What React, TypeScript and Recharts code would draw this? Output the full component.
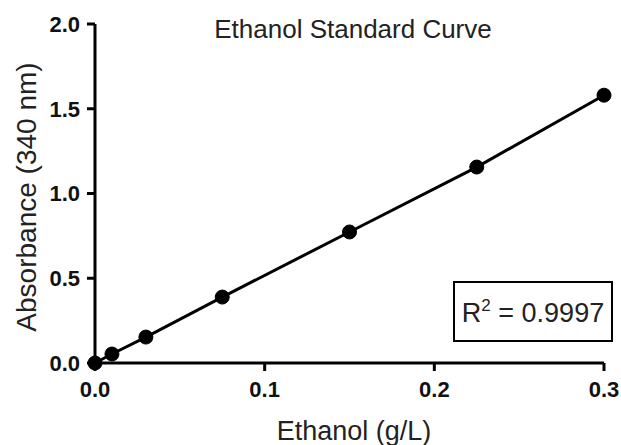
import { ComposedChart, XAxis, YAxis, Line, Label } from "recharts";

// ethanol standards (g/L) and measured absorbance at 340 nm
const ethanol = [0, 0.01, 0.03, 0.075, 0.15, 0.225, 0.3];
const absorbance = [0, 0.053, 0.153, 0.389, 0.773, 1.156, 1.58];
const xTicks = [0, 0.1, 0.2, 0.3];
const yTicks = [0, 0.5, 1.0, 1.5, 2.0];
const rSquared = "0.9997";

const chartData = ethanol.map((x, i) => ({ x, y: absorbance[i] }));

const FONT = "'Liberation Sans', Arial, sans-serif";

function App() {
    return (
        <div style={{ position: "absolute", left: 0, top: 0, width: 621, height: 445, fontFamily: FONT, background: "#fff" }}>
            <ComposedChart width={621} height={445} data={chartData}
                margin={{ top: 24, right: 17, bottom: 0, left: 0 }}
                style={{ fontFamily: FONT }}>

                <XAxis dataKey="x"
                    type="number"
                    domain={[0, 0.3]}
                    ticks={xTicks}
                    tickFormatter={(v: number) => v.toFixed(1)}
                    height={82}
                    axisLine={{ stroke: "#000", strokeWidth: 3 }}
                    tickLine={{ stroke: "#000", strokeWidth: 3 }}
                    tickSize={8}
                    tickMargin={10}
                    tick={{ fontSize: 22, fontWeight: "bold", fill: "#111" }}>
                    <Label content={() => (
                        <text x={354} y={440} textAnchor="middle" fontSize={27} fill="#222">
                            Ethanol (g/L)
                        </text>
                    )} />
                </XAxis>

                <YAxis dataKey="y"
                    type="number"
                    domain={[0, 2]}
                    ticks={yTicks}
                    tickFormatter={(v: number) => v.toFixed(1)}
                    width={95}
                    axisLine={{ stroke: "#000", strokeWidth: 3 }}
                    tickLine={{ stroke: "#000", strokeWidth: 3 }}
                    tickSize={8}
                    tickMargin={7}
                    tick={{ fontSize: 22, fontWeight: "bold", fill: "#111" }}>
                    <Label content={() => (
                        <text transform="translate(36,197) rotate(-90)" textAnchor="middle" fontSize={28} fill="#222">
                            Absorbance (340 nm)
                        </text>
                    )} />
                </YAxis>

                <Line dataKey="y"
                    type="linear"
                    stroke="#000"
                    strokeWidth={3}
                    dot={{ r: 7, fill: "#000", stroke: "#000", strokeWidth: 1 }}
                    activeDot={false}
                    isAnimationActive={false} />
            </ComposedChart>

            <div style={{ position: "absolute", left: 0, width: 706, top: 16, textAlign: "center", fontSize: 26, lineHeight: "26px", color: "#222" }}>
                Ethanol Standard Curve
            </div>

            <div style={{
                position: "absolute", left: 453, top: 281, width: 156, height: 53,
                border: "2px solid #000", background: "#fff",
                display: "flex", alignItems: "center", justifyContent: "center",
                fontSize: 27, color: "#222", paddingTop: 4, boxSizing: "content-box",
            }}>
                <span>R<span style={{ fontSize: 17, position: "relative", top: -11 }}>2</span> = {rSquared}</span>
            </div>
        </div>
    );
}

export default App;
